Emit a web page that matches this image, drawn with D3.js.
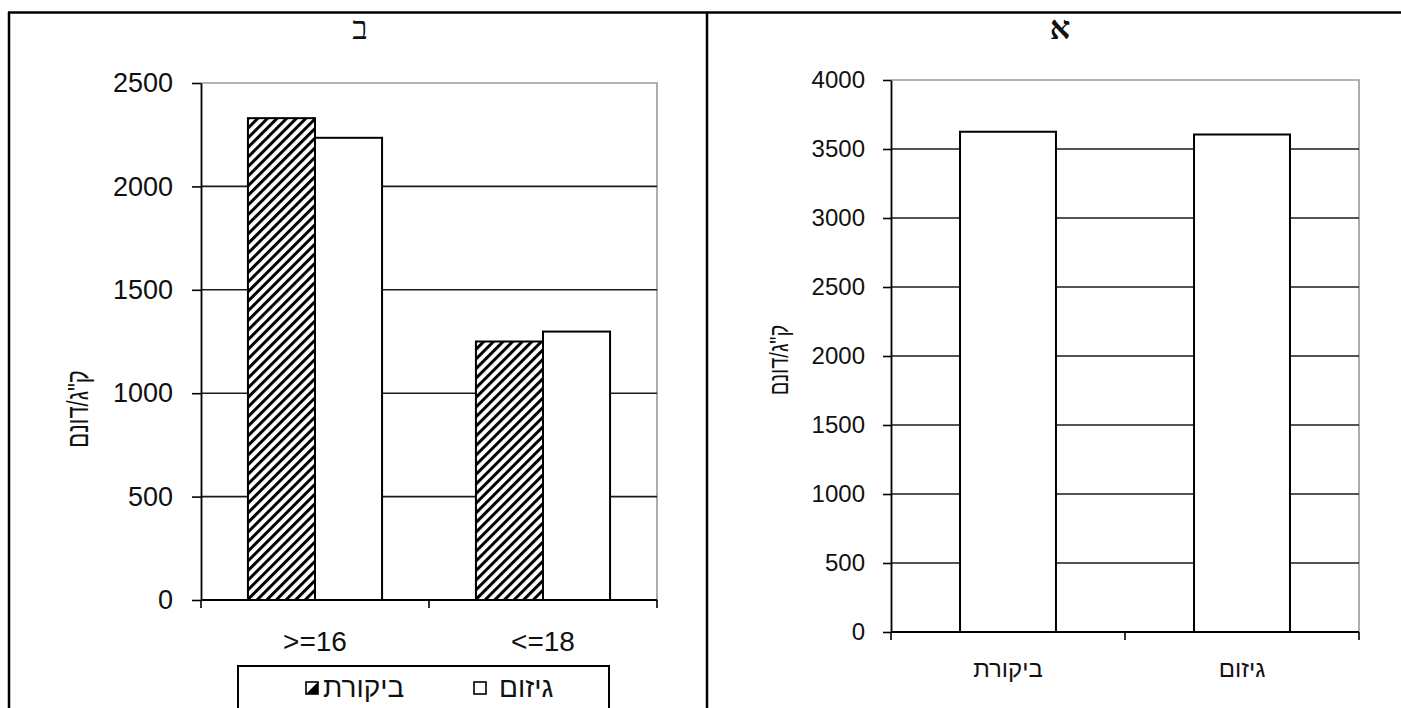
<!DOCTYPE html>
<html><head><meta charset="utf-8">
<script src="https://cdn.jsdelivr.net/npm/d3@7"></script>
<style>
html,body{margin:0;padding:0;background:#fff;}
svg{display:block;}
text{font-family:"Liberation Sans",Arial,sans-serif;fill:#111;}
</style></head>
<body>
<svg id="c" width="1401" height="708"></svg>
<script>
// ---- data ----
const panelTitles = ["ב", "א"];
const yTitle = "ק\"ג/דונם";
const leftCategories = [">=16", "<=18"];
const leftSeries = ["ביקורת", "גיזום"];
const leftControl = [2330, 1250];
const leftPruned = [2235, 1298];
const leftTicks = [0, 500, 1000, 1500, 2000, 2500];
const rightCategories = ["ביקורת", "גיזום"];
const rightValues = [3625, 3605];
const rightTicks = [0, 500, 1000, 1500, 2000, 2500, 3000, 3500, 4000];

const svg = d3.select("#c");
const defs = svg.append("defs");
const pat = defs.append("pattern").attr("id","hatch").attr("patternUnits","userSpaceOnUse")
  .attr("width",6.8).attr("height",6.8).attr("patternTransform","rotate(45)");
pat.append("rect").attr("width",6.8).attr("height",6.8).attr("fill","#fff");
pat.append("line").attr("x1",1.5).attr("y1",0).attr("x2",1.5).attr("y2",6.8).attr("stroke","#000").attr("stroke-width",3);

// ---- table frame ----
const frame = svg.append("g").attr("stroke","#000").attr("stroke-width",2.5);
frame.append("line").attr("x1",8).attr("x2",1401).attr("y1",12.5).attr("y2",12.5);
frame.append("line").attr("x1",9).attr("x2",9).attr("y1",12).attr("y2",708);
frame.append("line").attr("x1",707).attr("x2",707).attr("y1",12).attr("y2",708);

const titleX = [360, 1060];
panelTitles.forEach((t,i)=>{
  svg.append("text").attr("x",titleX[i]).attr("y",39).attr("text-anchor","middle")
    .style("font-family","'Liberation Serif','Noto Serif','DejaVu Serif',serif")
    .style("font-size","32px").style("font-weight", i===1 ? "bold" : "normal").text(t);
});

function plotFrame(g, x0, x1, y, ticks){
  const top = y(ticks[ticks.length-1]);
  const bot = y(0);
  g.append("path").attr("d",`M${x0},${top}H${x1}V${bot}`).attr("fill","none")
    .attr("stroke","#9a9a9a").attr("stroke-width",1.6);
  g.selectAll(".grid").data(ticks.slice(1,-1)).join("line")
    .attr("x1",x0).attr("x2",x1).attr("y1",d=>y(d)).attr("y2",d=>y(d))
    .attr("stroke","#1a1a1a").attr("stroke-width",1.6);
}
function yAxis(g, x0, y, ticks, tickLen, pad, fs){
  const ax = g.append("g").attr("transform",`translate(${x0},0)`)
    .call(d3.axisLeft(y).tickValues(ticks).tickFormat(d3.format("d")).tickSize(tickLen).tickSizeOuter(0).tickPadding(pad));
  ax.select(".domain").attr("stroke","#000").attr("stroke-width",1.8);
  ax.selectAll(".tick line").attr("stroke","#000").attr("stroke-width",1.6);
  ax.selectAll(".tick text").style("font-size",fs+"px").style("font-family","'Liberation Sans',Arial,sans-serif").attr("fill","#111");
}
function xAxis(g, x, y0, tickLen){
  const edges = [x.range()[0]].concat(x.domain().map(c=>x(c)+x.bandwidth()));
  g.append("line").attr("x1",x.range()[0]).attr("x2",x.range()[1]).attr("y1",y0).attr("y2",y0)
    .attr("stroke","#000").attr("stroke-width",1.8);
  g.selectAll(".xt").data(edges).join("line").attr("x1",d=>d).attr("x2",d=>d)
    .attr("y1",y0).attr("y2",y0+tickLen).attr("stroke","#000").attr("stroke-width",1.6);
}

// ---- left panel (ב) ----
{
  const g = svg.append("g");
  const y = d3.scaleLinear().domain([0,2500]).range([600,83]);
  const x = d3.scaleBand().domain(leftCategories).range([201,657]);
  const xs = d3.scaleBand().domain(leftSeries).range([0,x.bandwidth()]).paddingOuter(0.7);
  plotFrame(g, 201, 657, y, leftTicks);
  const rows = leftCategories.map((c,i)=>({c, vals:[leftControl[i], leftPruned[i]]}));
  const grp = g.selectAll(".grp").data(rows).join("g").attr("transform",d=>`translate(${x(d.c)},0)`);
  grp.selectAll("rect").data(d=>d.vals.map((v,j)=>({s:leftSeries[j], v, j}))).join("rect")
    .attr("x",d=>xs(d.s)).attr("width",xs.bandwidth())
    .attr("y",d=>y(d.v)).attr("height",d=>y(0)-y(d.v))
    .attr("fill",d=>d.j===0?"url(#hatch)":"#fff").attr("stroke","#000").attr("stroke-width",2);
  yAxis(g, 201, y, leftTicks, 9, 19, 27);
  xAxis(g, x, 600, 8);
  g.selectAll(".xl").data(leftCategories).join("text")
    .attr("x",d=>x(d)+x.bandwidth()/2).attr("y",651).attr("text-anchor","middle")
    .style("font-size","28px").attr("direction","ltr").text(d=>d);
  g.append("text").attr("transform","translate(88,409) rotate(-90) scale(1,1.35)").attr("text-anchor","middle")
    .style("font-size","22px").text(yTitle);
  // legend
  const lg = g.append("g");
  lg.append("rect").attr("x",238).attr("y",666).attr("width",371).attr("height",60)
    .attr("fill","#fff").attr("stroke","#000").attr("stroke-width",2);
  const items = [{s:leftSeries[0], ix:306, tx:323, hatched:true},{s:leftSeries[1], ix:474, tx:499, hatched:false}];
  items.forEach(it=>{
    lg.append("rect").attr("x",it.ix).attr("y",682).attr("width",12).attr("height",12)
      .attr("fill","#fff").attr("stroke","#000").attr("stroke-width",1.6);
    if(it.hatched){
      lg.append("path").attr("d",`M${it.ix},${682+12}L${it.ix+12},682L${it.ix+12},${682+12}Z`).attr("fill","#000");
    }
    lg.append("text").attr("x",it.tx).attr("y",697).attr("text-anchor","start")
      .style("font-size","28px").text(it.s);
  });
}

// ---- right panel (א) ----
{
  const g = svg.append("g");
  const y = d3.scaleLinear().domain([0,4000]).range([632,80]);
  const x = d3.scaleBand().domain(rightCategories).range([891,1359]);
  const bw = x.bandwidth()*0.41;
  plotFrame(g, 891, 1359, y, rightTicks);
  g.selectAll(".bar").data(rightCategories.map((c,i)=>({c, v:rightValues[i]}))).join("rect")
    .attr("x",d=>x(d.c)+x.bandwidth()/2-bw/2).attr("width",bw)
    .attr("y",d=>y(d.v)).attr("height",d=>y(0)-y(d.v))
    .attr("fill","#fff").attr("stroke","#000").attr("stroke-width",2);
  yAxis(g, 891, y, rightTicks, 8, 18, 24);
  xAxis(g, x, 632, 8);
  g.selectAll(".xl").data(rightCategories).join("text")
    .attr("x",d=>x(d)+x.bandwidth()/2).attr("y",677).attr("text-anchor","middle")
    .style("font-size","24px").text(d=>d);
  g.append("text").attr("transform","translate(788,360) rotate(-90) scale(1,1.3)").attr("text-anchor","middle")
    .style("font-size","20px").text(yTitle);
}
</script>
</body></html>
